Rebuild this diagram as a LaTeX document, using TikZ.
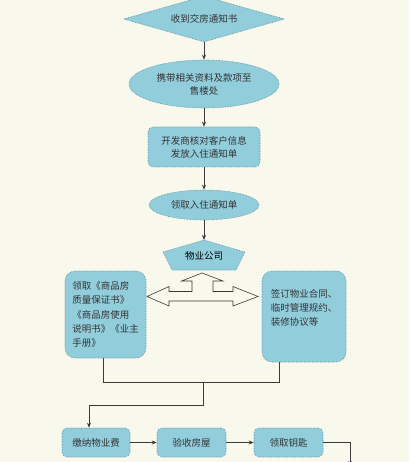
\documentclass[tikz,border=0pt]{standalone}
\usepackage{fontspec}
\setmainfont{Noto Sans CJK SC}
\usetikzlibrary{shapes.geometric,arrows.meta}
\definecolor{paper}{HTML}{F8F8EC}
\definecolor{aqua}{HTML}{92CDDC}
\definecolor{rim}{HTML}{5E8C9C}
\definecolor{ink}{HTML}{3A3A3A}
\begin{document}
\begin{tikzpicture}[x=1pt,y=-1pt,
    font=\fontsize{9.5}{13}\selectfont,
    nodebase/.style={fill=aqua,draw=rim,densely dotted,line width=.6pt,inner sep=0pt,text=black!80},
    roundbox/.style={nodebase,rectangle,rounded corners=5pt,align=center},
    ovalbox/.style={nodebase,ellipse,align=center},
    link/.style={draw=ink,line width=.7pt},
    >={Stealth[length=5pt,width=4pt]}]

    \useasboundingbox (0,0) rectangle (409,462);
    \clip (0,0) rectangle (409,462);
    \fill[paper] (0,0) rectangle (409,462);

    \node[nodebase,diamond,aspect=3.5,minimum width=161pt,minimum height=46pt] (notice) at (204,19) {收到交房通知书};
    \node[ovalbox,minimum width=150pt,minimum height=48pt] (visit) at (204,84) {携带相关资料及款项至\\售楼处};
    \node[roundbox,minimum width=112pt,minimum height=40pt] (verify) at (204,147) {开发商核对客户信息\\发放入住通知单};
    \node[ovalbox,minimum width=110pt,minimum height=30pt] (permit) at (204,205) {领取入住通知单};
    \draw[nodebase] (204,240) -- (245,252) -- (236,270) -- (172,270) -- (163,252) -- cycle;
    \coordinate (firmtop) at (204,240);
    \node (firm) at (204,256) {物业公司};

    \draw[draw=ink,fill=paper,line width=.6pt] (202,273) -- (223,281) -- (213,281) -- (213,291.5) -- (233,291.5) -- (233,286.5) -- (258,296.5) -- (233,306) -- (233,301) -- (169,301) -- (169,306) -- (147,296.5) -- (169,286.5) -- (169,291.5) -- (192,291.5) -- (192,281) -- (181.5,281) -- cycle;

    \node[roundbox,rounded corners=10pt,minimum width=81pt,minimum height=87pt,align=left,font=\fontsize{9.5}{14.3}\selectfont] (papers) at (105.5,314.5) {领取《商品房\\质量保证书》\\《商品房使用\\说明书》《业主\\手册》};
    \node[roundbox,rounded corners=10pt,minimum width=84pt,minimum height=91pt,align=left,font=\fontsize{9.5}{14}\selectfont] (contract) at (304,316.5) {签订物业合同、\\临时管理规约、\\装修协议等\\[4pt]};

    \node[roundbox,minimum width=68pt,minimum height=29pt] (fee) at (96,442.5) {缴纳物业费};
    \node[roundbox,minimum width=69pt,minimum height=29pt] (inspect) at (191.5,442.5) {验收房屋};
    \node[roundbox,minimum width=69pt,minimum height=29pt] (keys) at (288.5,442.5) {领取钥匙};

    \draw[link,->] (notice.south) -- (visit.north);
    \draw[link,->] (visit.south) -- (verify.north);
    \draw[link,->] (verify.south) -- (permit.north);
    \draw[link,->] (permit.south) -- (firmtop);

    \coordinate (jl) at (103,382);
    \coordinate (jr) at (279,382);
    \coordinate (jm) at (203,382);
    \coordinate (jb) at (203,405);
    \draw[link] (papers.south -| jl) -- (jl) -- (jr) -- (contract.south -| jr);
    \draw[link,->] (jm) -- (jb) -| ([xshift=-7pt]fee.north);
    \draw[link,->] (fee) -- (inspect);
    \draw[link,->] (inspect) -- (keys);
    \coordinate (exit) at (350,466);
    \draw[link,->] (keys.east) -| (exit);

\end{tikzpicture}
\end{document}
